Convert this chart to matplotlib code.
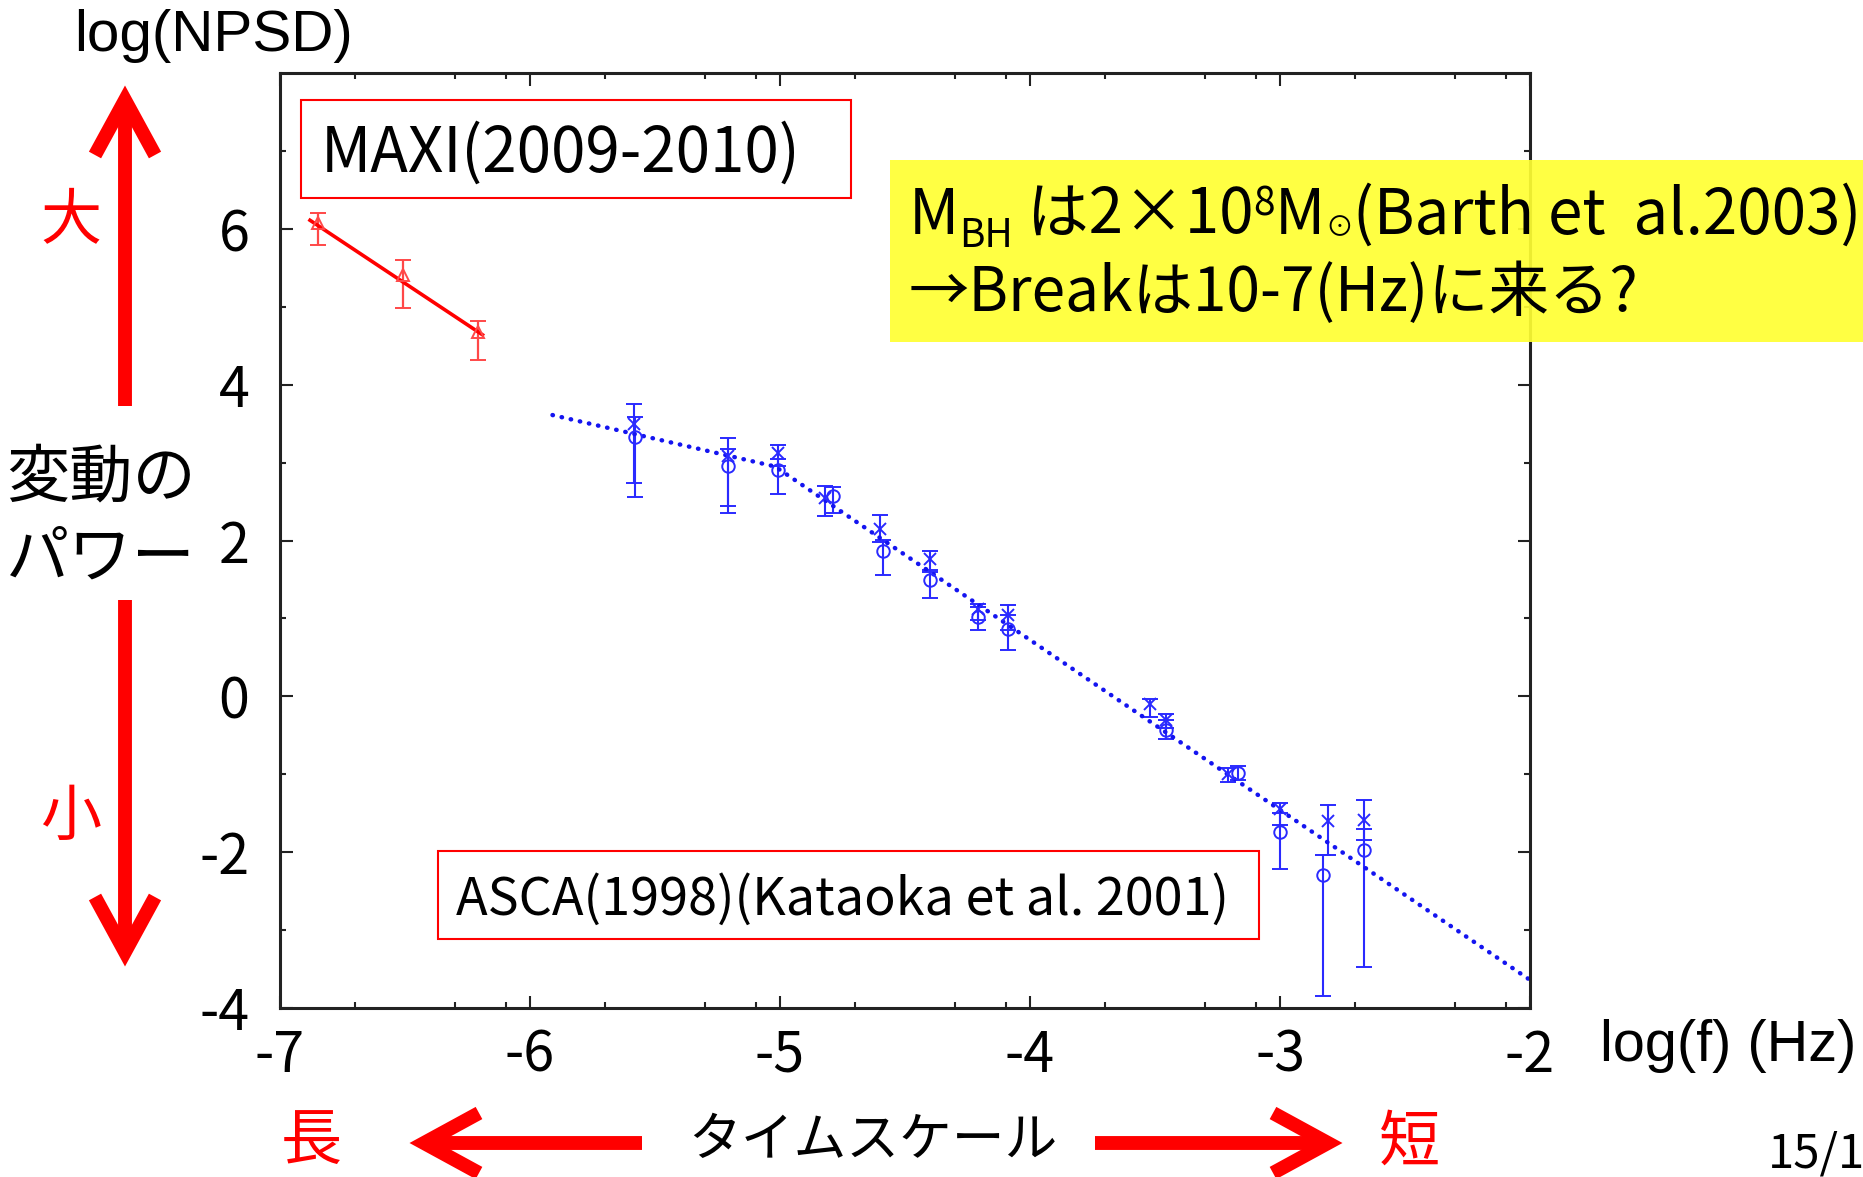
import numpy as np
import matplotlib
matplotlib.use("Agg")
import matplotlib.pyplot as plt
from matplotlib.patches import Rectangle
from matplotlib.lines import Line2D

plt.rcParams["axes.unicode_minus"] = False
JP = ["Noto Sans CJK JP", "DejaVu Sans"]
AR = ["Liberation Sans", "DejaVu Sans"]

# ---- MAXI (2009-2010) power spectrum points: log f, log NPSD, error range
maxi_x = [-6.85, -6.51, -6.21]
maxi_y = [6.07, 5.41, 4.67]
maxi_lo = [5.79, 4.99, 4.32]
maxi_hi = [6.20, 5.60, 4.82]
# MAXI power-law fit (end points)
maxi_fit_x = [-6.88, -6.19]
maxi_fit_y = [6.11, 4.64]

# ---- ASCA (1998) points, circles
asca_o_x = [-5.58, -5.21, -5.01, -4.79, -4.59, -4.40, -4.21, -4.09,
            -3.455, -3.17, -3.00, -2.83, -2.665]
asca_o_y = [3.33, 2.955, 2.90, 2.57, 1.86, 1.49, 1.02, 0.87,
            -0.43, -0.98, -1.74, -2.29, -1.97]
asca_o_lo = [2.56, 2.35, 2.60, 2.35, 1.56, 1.26, 0.85, 0.60,
             -0.55, -1.08, -2.22, -3.84, -3.47]
asca_o_hi = [3.59, 3.17, 3.05, 2.69, 2.01, 1.62, 1.15, 1.04,
             -0.30, -0.90, -1.50, -2.03, -1.70]

# ---- ASCA (1998) points, crosses
asca_x_x = [-5.585, -5.21, -5.01, -4.82, -4.60, -4.40, -4.21, -4.09,
            -3.52, -3.455, -3.21, -3.00, -2.81, -2.665]
asca_x_y = [3.50, 3.09, 3.12, 2.54, 2.15, 1.76, 1.12, 1.04,
            -0.10, -0.30, -1.00, -1.44, -1.60, -1.59]
asca_x_lo = [2.74, 2.44, 2.95, 2.31, 1.98, 1.60, 0.98, 0.85,
             -0.26, -0.40, -1.10, -1.65, -2.03, -1.85]
asca_x_hi = [3.75, 3.31, 3.22, 2.70, 2.33, 1.87, 1.19, 1.17,
             -0.04, -0.23, -0.92, -1.37, -1.40, -1.33]

# ASCA broken power-law fit (start, break, end)
asca_fit_x = [-5.91, -5.02, -2.0]
asca_fit_y = [3.61, 2.95, -3.64]

x_ticks = [-7, -6, -5, -4, -3, -2]
x_tick_labels = ["-7", "-6", "-5", "-4", "-3", "-2"]
y_ticks = [-4, -2, 0, 2, 4, 6]
y_tick_labels = ["-4", "-2", "0", "2", "4", "6"]

W, H = 1863, 1177
fig = plt.figure(figsize=(W / 100, H / 100), dpi=100)
fig.patch.set_facecolor("white")

ax = fig.add_axes([280 / W, (H - 1008) / H, 1250 / W, 935 / H])
ax.set_xlim(-7, -2)
ax.set_ylim(-4, 8)
ax.set_xticks(x_ticks)
ax.set_xticklabels(x_tick_labels)
ax.set_yticks(y_ticks)
ax.set_yticklabels(y_tick_labels)
minor_x = [d + np.log10(m) for d in range(-7, -2) for m in (2, 5, 8)]
ax.set_xticks(minor_x, minor=True)
ax.set_yticks([-3, -1, 1, 3, 5, 7], minor=True)
ax.tick_params(which="both", direction="in", top=True, right=True,
               width=1.5, color="#222222")
ax.tick_params(which="major", length=9)
ax.tick_params(which="minor", length=4.5)
ax.tick_params(axis="x", which="major", pad=14)
ax.tick_params(axis="y", which="major", pad=22)
for lbl in ax.get_xticklabels() + ax.get_yticklabels():
    lbl.set_fontfamily(JP)
    lbl.set_fontsize(40)
for sp in ax.spines.values():
    sp.set_linewidth(2.2)
    sp.set_color("#222222")

# MAXI data
ax.errorbar(maxi_x, maxi_y,
            yerr=[np.subtract(maxi_y, maxi_lo), np.subtract(maxi_hi, maxi_y)],
            fmt="^", ms=8, mfc="none", mec="#ff4848", mew=1.4,
            ecolor="#ff4848", elinewidth=1.6, capsize=6, capthick=1.6)
ax.plot(maxi_fit_x, maxi_fit_y, color="red", lw=2.6)

blue = "#2a2aff"
ax.errorbar(asca_o_x, asca_o_y,
            yerr=[np.subtract(asca_o_y, asca_o_lo), np.subtract(asca_o_hi, asca_o_y)],
            fmt="o", ms=9, mfc="none", mec=blue, mew=1.4,
            ecolor=blue, elinewidth=1.5, capsize=6, capthick=1.5)
ax.errorbar(asca_x_x, asca_x_y,
            yerr=[np.subtract(asca_x_y, asca_x_lo), np.subtract(asca_x_hi, asca_x_y)],
            fmt="x", ms=9, mec=blue, mew=1.4,
            ecolor=blue, elinewidth=1.5, capsize=6, capthick=1.5)
ax.plot(asca_fit_x, asca_fit_y, color="#1414f0", lw=3.2,
        ls=(0, (0.1, 2.0)), dash_capstyle="round")

# ---- overlay in pixel coordinates for annotations
ov = fig.add_axes([0, 0, 1, 1], zorder=5)
ov.set_xlim(0, W)
ov.set_ylim(H, 0)
ov.axis("off")
ov.patch.set_visible(False)

# labelled boxes
ov.add_patch(Rectangle((301, 100), 550, 98, fill=False, ec="red", lw=1.5))
ov.text(321, 172, "MAXI(2009-2010)", fontsize=44.5, family=JP,
        va="baseline", ha="left")
ov.add_patch(Rectangle((438, 851), 821, 88, fill=False, ec="red", lw=1.5))
ov.text(456, 915, "ASCA(1998)(Kataoka et al. 2001)", fontsize=37.5, family=JP,
        va="baseline", ha="left")

# yellow note
ov.add_patch(Rectangle((890, 160), W - 890, 182, fc="#ffff33", ec="none",
                       alpha=0.92))
renderer = fig.canvas.get_renderer()
x = 909
base = 234
for txt, size, dy in [("M", 44.5, 0), ("BH", 28, 13), (" は2×10", 44.5, 0),
                      ("8", 28, -19), ("M", 44.5, 0), ("⊙", 20, 2),
                      ("(Barth et  al.2003)", 44.5, 0)]:
    t = ov.text(x, base + dy, txt, fontsize=size, family=JP,
                va="baseline", ha="left")
    x = t.get_window_extent(renderer).x1
ov.text(909, 311, "→Breakは10-7(Hz)に来る?", fontsize=43.5, family=JP,
        va="baseline", ha="left")

# axis titles
ov.text(74, 36, "log(NPSD)", fontsize=42, family=AR, va="center", ha="left")
ov.text(1600, 1046, "log(f) (Hz)", fontsize=41.5, family=AR, va="center",
        ha="left")


def arrow(tail, tip, head_len=55, head_half=30, lw=10):
    tx, ty = tail
    px, py = tip
    d = np.array([px - tx, py - ty], float)
    d /= np.hypot(*d)
    n = np.array([-d[1], d[0]])
    base_pt = np.array([px, py]) - d * head_len
    ov.add_line(Line2D([tx, px - d[0] * 4], [ty, py - d[1] * 4], color="red",
                       lw=lw, solid_capstyle="butt"))
    left = base_pt + n * head_half
    right = base_pt - n * head_half
    ov.add_line(Line2D([left[0], px, right[0]], [left[1], py, right[1]],
                       color="red", lw=lw, solid_joinstyle="miter",
                       solid_capstyle="butt"))


# vertical power arrows
arrow((125, 406), (125, 100))
arrow((125, 600), (125, 952))
ov.text(71, 222, "大", fontsize=44, family=JP, color="red", ha="center",
        va="center")
ov.text(71, 818, "小", fontsize=44, family=JP, color="red", ha="center",
        va="center")
ov.text(101, 478, "変動の", fontsize=45.5, family=JP, ha="center", va="center")
ov.text(101, 559, "パワー", fontsize=45.5, family=JP, ha="center", va="center")

# horizontal timescale arrows
arrow((642, 1143), (424, 1143))
arrow((1095, 1143), (1328, 1143))
ov.text(311, 1143, "長", fontsize=44, family=JP, color="red", ha="center",
        va="center")
ov.text(1410, 1143, "短", fontsize=44, family=JP, color="red", ha="center",
        va="center")
ov.text(873, 1141, "タイムスケール", fontsize=38, family=JP, ha="center",
        va="center")

ov.text(1768, 1168, "15/1", fontsize=34, family=JP, ha="left", va="baseline")

fig.savefig("out.png", dpi=100)
